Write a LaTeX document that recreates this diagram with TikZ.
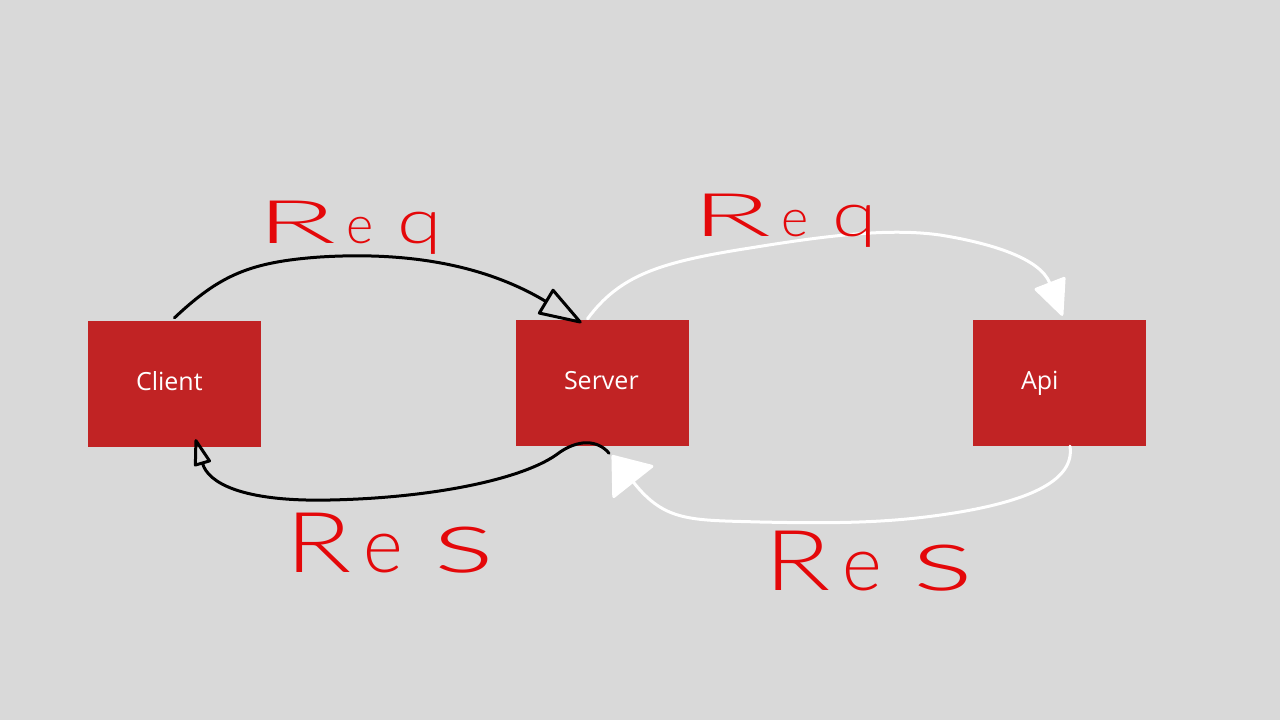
\documentclass[tikz,border=0pt]{standalone}
\usepackage{fontspec}
\setmainfont{Open Sans}
\newfontfamily\handfont{Lato Light}
\usetikzlibrary{arrows.meta,calc}
\definecolor{bg}{RGB}{217,217,217}
\definecolor{boxred}{RGB}{193,35,36}
\definecolor{pen}{RGB}{228,8,10}
\newcommand{\reqtext}{\fontsize{60}{60}\selectfont\scalebox{2.2}[1]{R}\hspace{10pt}\fontsize{52}{52}\selectfont e\hspace{24pt}\fontsize{62}{62}\selectfont\scalebox{1.3}[1]{q}}
\newcommand{\restext}{\fontsize{84}{84}\selectfont\scalebox{1.3}[1]{R}\hspace{12pt}\fontsize{76}{76}\selectfont e\hspace{30pt}\fontsize{90}{90}\selectfont\scalebox{1.6}[1]{s}}
\begin{document}
\begin{tikzpicture}[x=1pt,y=-1pt,
  box/.style={fill=boxred, draw=none, minimum height=126pt, text width=77pt, inner xsep=48pt, inner ysep=0pt, text height=15pt, text depth=3pt, align=left, text=white, font=\fontsize{25}{29}\selectfont},
  blk/.style={draw=black, line width=3pt, line cap=round},
  wht/.style={draw=white, line width=3pt, line cap=round},
  hand/.style={text=pen, anchor=base west, inner sep=0pt, font=\handfont}]
\fill[bg] (0,0) rectangle (1280,720);
\useasboundingbox (0,0) rectangle (1280,720);

\node[box] (client) at (174.5,384) {Client};
\node[box] (server) at (602.5,383) {Server};
\node[box] (api) at (1059.5,383) {Api};

% Client -> Server (request, black)
\draw[blk, -{Triangle[open, length=46pt, width=30pt, line width=3pt, round]}]
  ($(client.north)+(0,-3)$) .. controls (220,275) and (250,262) .. (320,257)
  .. controls (400,252) and (480,262) .. ($(server.north)+(-21,3)$);

% Server -> Client (response, black)
\draw[blk, -{Triangle[open, length=30pt, width=18pt, line width=3pt, round]}]
  ($(server.south)+(6.5,7)$) .. controls (598,440) and (578,438) .. (556,455)
  .. controls (520,480) and (430,498) .. (330,500)
  .. controls (240,502) and (208,482) .. ($(client.south)+(21,-8)$);

% Server -> Api (request, white)
\draw[wht, -{Triangle[length=38pt, width=34pt, round]}]
  ($(server.north)+(-15,-1)$) .. controls (620,275) and (660,262) .. (750,248)
  .. controls (830,235) and (890,228) .. (940,235)
  .. controls (990,243) and (1040,258) .. ($(api.north)+(3,-4)$);

% Api -> Server (response, white)
\draw[wht, -{Triangle[length=36pt, width=54pt, round]}]
  ($(api.south)+(10.5,0)$) .. controls (1075,480) and (1030,500) .. (960,512)
  .. controls (900,522) and (850,524) .. (760,522)
  .. controls (690,520) and (665,522) .. ($(server.south)+(9.5,9)$);

\node[hand] (req1) at (256,243) {\reqtext};
\node[hand] (req2) at (691,236) {\reqtext};
\node[hand] (res1) at (285,572) {\restext};
\node[hand] (res2) at (764,590) {\restext};
\end{tikzpicture}
\end{document}
